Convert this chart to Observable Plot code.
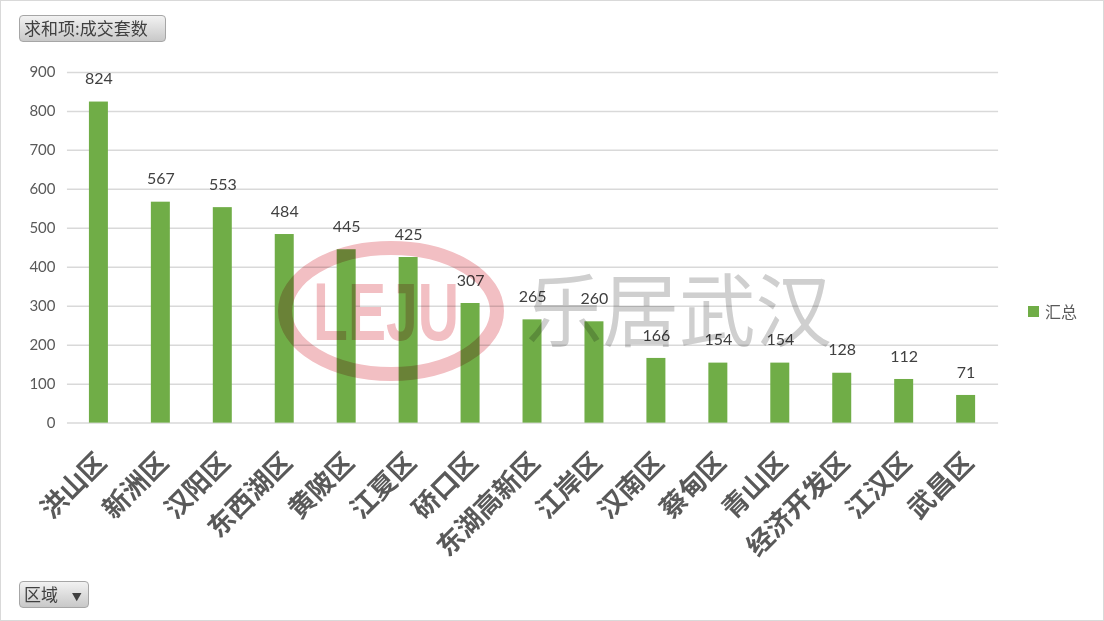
<!DOCTYPE html>
<html><head><meta charset="utf-8">
<script src="https://cdn.jsdelivr.net/npm/d3@7"></script>
<script src="https://cdn.jsdelivr.net/npm/@observablehq/plot@0.6"></script>
<style>
html,body{margin:0;padding:0;background:#fff;}
#wrap{position:relative;width:1102px;height:619px;border:1px solid #d9d9d9;overflow:hidden;font-family:"Noto Sans CJK SC",sans-serif;}
#chart{position:absolute;left:-1px;top:-1px;}
.btn{position:absolute;border:1px solid #a6a6a6;border-radius:4px;background:linear-gradient(#f2f2f2,#c8c8c8);color:#404040;font-size:17px;line-height:24px;padding:0 4px;box-sizing:border-box;}
#legend{position:absolute;left:1027px;top:298px;font-size:16px;color:#595959;display:flex;align-items:center;}
#legend span.sw{display:inline-block;width:11px;height:11px;background:#70ad47;margin-right:6px;}
#wm{position:absolute;left:0;top:0;pointer-events:none;mix-blend-mode:multiply;}
</style></head>
<body>
<div id="wrap">
<div id="chart"></div>
<svg id="wm" width="1104" height="621">
  <ellipse cx="390" cy="310" rx="106" ry="63" fill="none" stroke="#f2bfc3" stroke-width="14"/>
  <text x="385" y="339" text-anchor="middle" font-family="Liberation Sans Narrow, Liberation Sans, sans-serif" font-weight="bold" font-size="82" fill="#f2bfc3" textLength="146" lengthAdjust="spacingAndGlyphs">LEJU</text>
  <text x="525" y="339" font-family="Noto Sans CJK SC, sans-serif" font-weight="400" font-size="80" fill="#cfcfcf" textLength="306" lengthAdjust="spacingAndGlyphs">乐居武汉</text>
</svg>
<div class="btn" style="left:18px;top:14px;width:147px;height:27px;">求和项:成交套数</div>
<div class="btn" style="left:18px;top:580px;width:70px;height:27px;">区域 <span style="font-size:10px;margin-left:10px;">▼</span></div>
<div id="legend"><span class="sw"></span>汇总</div>
</div>
<script>
const districts = ["洪山区","新洲区","汉阳区","东西湖区","黄陂区","江夏区","硚口区","东湖高新区","江岸区","汉南区","蔡甸区","青山区","经济开发区","江汉区","武昌区"];
const counts = [824,567,553,484,445,425,307,265,260,166,154,154,128,112,71];
const yTicks = [0,100,200,300,400,500,600,700,800,900];

const data = districts.map((d,i)=>({district:d, count:counts[i]}));

const chart = Plot.plot({
  width: 1104,
  height: 621,
  marginLeft: 67,
  marginRight: 105,
  marginTop: 72,
  marginBottom: 198,
  style: {fontFamily: "Lato, 'Noto Sans CJK SC', sans-serif", background: "transparent"},
  x: {domain: districts, paddingInner: 0.69, paddingOuter: 0.345, label: null},
  y: {domain: [0, 900], label: null},
  marks: [
    Plot.ruleY(yTicks, {stroke: "#d9d9d9", strokeWidth: 1.5}),
    Plot.barY(data, {x: "district", y: "count", fill: "#70ad47"}),
    Plot.text(data, {x: "district", y: "count", text: d => String(d.count), dy: -23, fill: "#404040", fontSize: 16, fontFamily: "Lato, sans-serif"}),
    Plot.axisY(yTicks, {tickSize: 0, tickPadding: 12, fontSize: 15, fill: "#595959", label: null}),
    Plot.axisX({tickSize: 0, tickPadding: 35, dx: 3, tickRotate: -45, fontSize: 26.5, fontWeight: "bold", fill: "#595959", fontFamily: "'Noto Sans CJK SC', sans-serif", label: null})
  ]
});
document.getElementById("chart").appendChild(chart);
</script>
</body></html>
